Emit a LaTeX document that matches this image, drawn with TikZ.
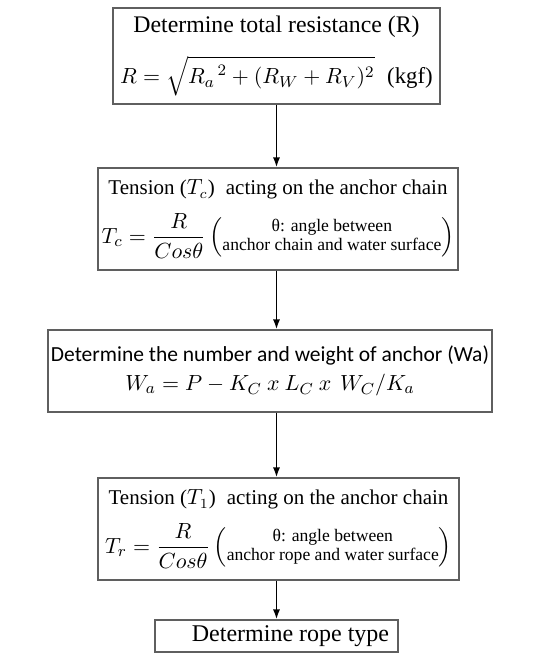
\documentclass[tikz,border=0pt]{standalone}
\usepackage{amsmath}
\usepackage{fontspec}
\setmainfont{Liberation Serif}
\newfontfamily\calib{Carlito}
\usetikzlibrary{arrows.meta, positioning}
\definecolor{frame}{RGB}{95,95,95}

\tikzset{
  stage/.style={draw=frame, line width=0.7pt, align=center, inner xsep=1pt, inner ysep=2pt},
  flow/.style={-{Latex[length=5pt, width=3.6pt]}, line width=0.8pt}
}
\newcommand{\anglenote}[1]{\ensuremath{\left(\vcenter{\hbox{\fontsize{8.8}{9.5}\selectfont\begin{tabular}{@{}c@{}}θ: angle between\\ #1 and water surface\end{tabular}}}\right)}}

\begin{document}
\begin{tikzpicture}[x=0.5pt, y=-0.5pt]
          \useasboundingbox (0,0) rectangle (538,659);
          % stages of the calculation
          \node[stage, minimum width=163.5pt, minimum height=48pt, font=\fontsize{11.9}{14}\selectfont] (resist) at (276.5,56)
            {Determine total resistance (R)\\[8pt]
             \fontsize{11.4}{14}\selectfont$R=\sqrt{{R_a}^{\,2}+(R_W+R_V)^2}$\;\;(kgf)};
          \node[stage, minimum width=180pt, minimum height=51pt, font=\fontsize{10.5}{13}\selectfont] (chain) at (278,219)
            {Tension ($T_c$)\; acting on the anchor chain\\[6pt]
             \fontsize{11}{14}\selectfont$T_c=\dfrac{R}{Cos\theta}$\,\anglenote{anchor chain}};
          \node[stage, minimum width=222pt, minimum height=41pt, font=\calib\fontsize{10.75}{12.5}\selectfont] (anchor) at (270,371)
            {Determine the number and weight of anchor (Wa)\\[2pt]
             \fontsize{11.3}{14}\selectfont$W_a=P-K_C\ x\ L_C\ x\ \,W_C/K_a$};
          \node[stage, minimum width=180.5pt, minimum height=51pt, font=\fontsize{10.5}{13}\selectfont] (rope) at (278.5,529)
            {Tension ($T_1$)\; acting on the anchor chain\\[6pt]
             \fontsize{11}{14}\selectfont$T_r=\dfrac{R}{Cos\theta}$\,\anglenote{anchor rope}};
          \node[stage, minimum width=121.5pt, minimum height=16pt, font=\fontsize{12}{14}\selectfont] (type) at (276.5,636)
            {\hspace*{14pt}Determine rope type};
          % connectors
          \draw[flow] (resist.south) -- (resist.south |- chain.north);
          \draw[flow] (chain.south -| resist.south) -- (resist.south |- anchor.north);
          \draw[flow] (anchor.south -| resist.south) -- (resist.south |- rope.north);
          \draw[flow] (rope.south -| resist.south) -- (resist.south |- type.north);
        \end{tikzpicture}
\end{document}
